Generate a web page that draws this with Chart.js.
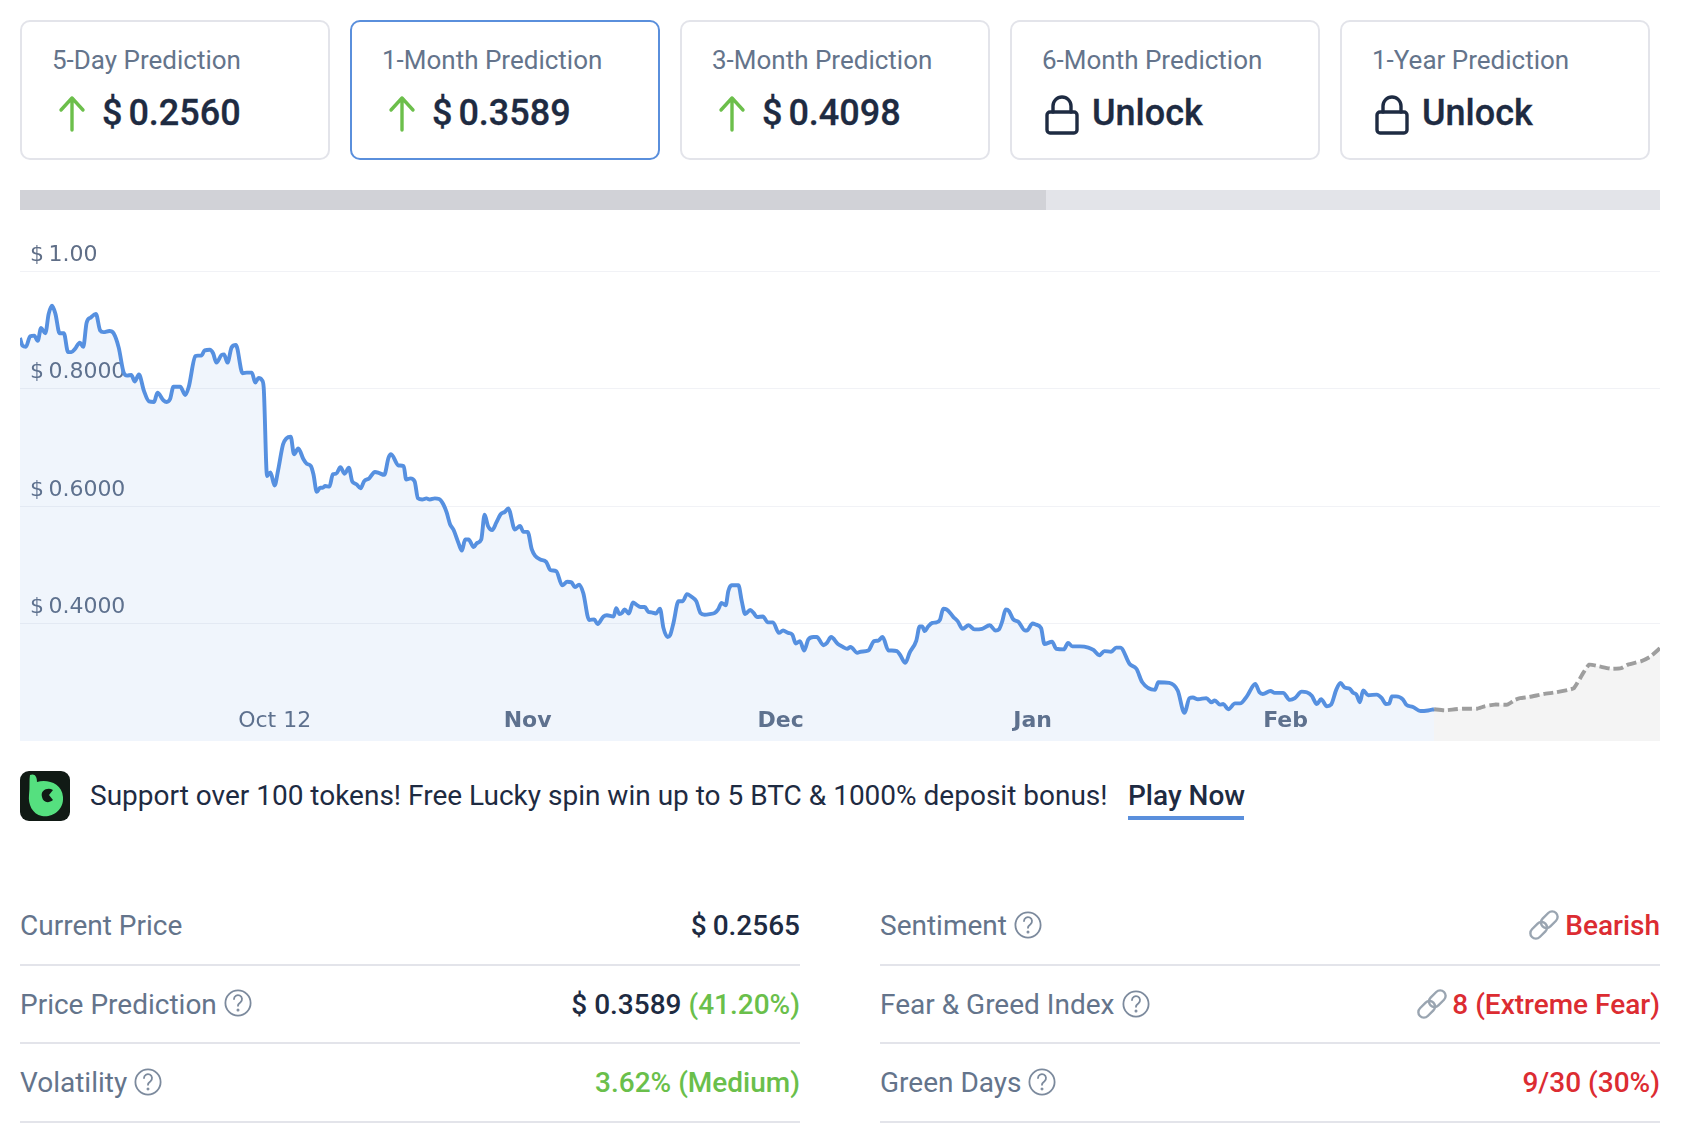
<!DOCTYPE html>
<html><head><meta charset="utf-8"><title>Price prediction</title>
<script src="https://cdn.jsdelivr.net/npm/chart.js@4"></script>
<style>
html,body{margin:0;padding:0;background:#fff;width:1684px;height:1134px;overflow:hidden;font-family:Roboto,sans-serif}
.abs,.card,.t{position:absolute}
.card{top:20px;width:306px;height:136px;border:2px solid #e3e4ea;border-radius:10px;background:#fff}
.card.on{border-color:#5a8fdc}
.t{white-space:nowrap;line-height:1;transform:translateY(-50%)}
.lab{font-size:26px;color:#64748b;letter-spacing:0}
.big{font-size:36px;font-weight:500;color:#1e2b42;-webkit-text-stroke:.3px #1e2b42;word-spacing:-3px}
.row{font-size:28px}
.dark{color:#1e2b42;font-weight:500}.green{color:#6abf4b;font-weight:500}.red{color:#dc2c32;font-weight:500}
.r{right:auto;transform:translate(-100%,-50%)}
.rule{position:absolute;height:2px;background:#e3e4ea}
svg{position:absolute;overflow:visible}
#chartWrap{position:absolute;left:20px;top:230px;width:1640px;height:511px}
</style></head><body>
<div class="card" style="left:20px"></div><div class="card on" style="left:350px"></div><div class="card" style="left:680px"></div><div class="card" style="left:1010px"></div><div class="card" style="left:1340px"></div>
<div class="t lab" style="left:52px;top:60px">5-Day Prediction</div>
<div class="t lab" style="left:382px;top:60px">1-Month Prediction</div>
<div class="t lab" style="left:712px;top:60px">3-Month Prediction</div>
<div class="t lab" style="left:1042px;top:60px">6-Month Prediction</div>
<div class="t lab" style="left:1372px;top:60px">1-Year Prediction</div>
<svg style="left:0;top:0" width="1684" height="200" fill="none" stroke="#6cbf4b" stroke-width="3.4" stroke-linecap="round" stroke-linejoin="round">
<path d="M72 130V98M61 110L72 98L83 110"/><path d="M402 130V98M391 110L402 98L413 110"/><path d="M732 130V98M721 110L732 98L743 110"/>
<g stroke="#1e2b42"><rect x="1047" y="112" width="30" height="21" rx="3"/><path d="M1053 112v-6a9 9 0 0 1 18 0v6"/><rect x="1377" y="112" width="30" height="21" rx="3"/><path d="M1383 112v-6a9 9 0 0 1 18 0v6"/></g>
</svg>
<div class="t big" style="left:102px;top:113px">$ 0.2560</div>
<div class="t big" style="left:432px;top:113px">$ 0.3589</div>
<div class="t big" style="left:762px;top:113px">$ 0.4098</div>
<div class="t big" style="left:1092px;top:113px">Unlock</div>
<div class="t big" style="left:1422px;top:113px">Unlock</div>
<div class="abs" style="left:20px;top:190px;width:1026px;height:20px;background:#d1d2d7"></div>
<div class="abs" style="left:1046px;top:190px;width:614px;height:20px;background:#e3e4e9"></div>
<div id="chartWrap"><canvas id="c" width="1640" height="511"></canvas></div>

<svg style="left:20px;top:771px" width="50" height="50"><rect width="50" height="50" rx="9" fill="#111a15"/><path d="M10 4C15 2 17 6 17 11C27 8 42 12 43 26C44 40 31 47 22 45C12 43 8 33 9 24C10 16 9 9 10 4Z" fill="#55e07f"/><path d="M22 26C20 19 28 16 33 19L29 24L33 29C28 33 23 31 22 26Z" fill="#111a15"/></svg>
<div class="t row" style="left:90px;top:796px;color:#1e2b42">Support over 100 tokens! Free Lucky spin win up to 5 BTC &amp; 1000% deposit bonus!</div>
<div class="t row dark" style="left:1128px;top:796px">Play Now</div>
<div class="abs" style="left:1128px;top:816px;width:116px;height:4px;background:#5a8fdc"></div>

<div class="t row lab" style="left:20px;top:926px;font-size:28px">Current Price</div>
<div class="t row dark r" style="left:800px;top:926px;word-spacing:-1px">$ 0.2565</div>
<div class="rule" style="left:20px;top:964px;width:780px"></div>
<div class="t row lab" style="left:20px;top:1005px;font-size:28px">Price Prediction</div>
<div class="t row r" style="left:800px;top:1005px"><span class="dark">$ 0.3589</span> <span class="green">(41.20%)</span></div>
<div class="rule" style="left:20px;top:1042px;width:780px"></div>
<div class="t row lab" style="left:20px;top:1083px;font-size:28px">Volatility</div>
<div class="t row green r" style="left:800px;top:1083px">3.62% (Medium)</div>
<div class="rule" style="left:20px;top:1121px;width:780px"></div>

<div class="t row lab" style="left:880px;top:926px;font-size:28px">Sentiment</div>
<div class="t row red r" style="left:1660px;top:926px">Bearish</div>
<div class="rule" style="left:880px;top:964px;width:780px"></div>
<div class="t row lab" style="left:880px;top:1005px;font-size:28px">Fear &amp; Greed Index</div>
<div class="t row red r" style="left:1660px;top:1005px">8 (Extreme Fear)</div>
<div class="rule" style="left:880px;top:1042px;width:780px"></div>
<div class="t row lab" style="left:880px;top:1083px;font-size:28px">Green Days</div>
<div class="t row red r" style="left:1660px;top:1083px">9/30 (30%)</div>
<div class="rule" style="left:880px;top:1121px;width:780px"></div>

<svg style="left:0;top:900px" width="1684" height="210" fill="none" stroke="#7c8a9d" stroke-width="1.8" stroke-linecap="round">
<g id="q"></g>
<g stroke="#9aa5b1" stroke-width="2.4">
<g transform="translate(1544,25) rotate(45)"><rect x="-5.5" y="-17" width="11" height="19" rx="5.5"/><rect x="-5.5" y="-2" width="11" height="19" rx="5.5"/></g>
<g transform="translate(1432,104) rotate(45)"><rect x="-5.5" y="-17" width="11" height="19" rx="5.5"/><rect x="-5.5" y="-2" width="11" height="19" rx="5.5"/></g>
</g>
</svg>
<script>
const historyDays = [
0.0,0.3,0.7,1.2,1.7,2.1,2.5,3.0,3.4,3.8,
4.2,4.7,5.2,5.7,6.1,6.5,7.1,7.5,7.9,8.4,
9.0,9.5,9.9,10.6,11.1,11.7,12.3,12.7,13.2,13.6,
14.1,14.7,15.3,15.9,16.3,17.0,17.4,17.8,18.2,19.0,
19.6,20.0,20.8,21.1,21.5,21.9,22.5,22.9,23.3,23.9,
24.2,24.6,25.1,25.6,26.4,26.9,27.5,27.9,28.3,28.7,
28.9,29.3,29.7,30.2,30.6,31.2,31.6,32.1,32.5,33.0,
33.6,34.0,34.5,34.8,35.2,35.6,
35.9,36.2,36.7,37.1,37.5,38.0,38.5,39.0,39.4,39.9,
40.4,40.8,41.4,42.1,42.6,43.2,43.7,44.0,44.9,45.5,
45.8,46.3,46.8,47.2,47.7,48.2,48.6,49.2,49.7,50.2,
50.6,51.0,51.4,52.0,52.4,52.8,53.2,53.8,54.2,54.7,
55.1,55.5,56.0,56.5,57.0,57.5,57.9,58.7,59.3,59.7,
60.2,60.7,61.1,61.7,62.4,62.9,63.6,64.3,64.9,65.4,
65.8,66.3,66.8,67.5,68.1,68.5,69.2,69.6,70.4,70.7,71.1,
71.4,71.7,72.2,72.7,73.1,73.6,74.1,74.5,74.9,75.4,
75.9,76.3,76.8,77.1,77.5,78.1,78.6,79.1,79.6,80.2,
80.7,81.2,81.8,82.4,82.8,83.2,83.7,84.0,84.4,85.2,
85.6,86.0,86.6,87.0,87.4,88.1,88.7,89.3,90.0,90.5,
91.1,91.6,92.0,92.5,93.0,93.5,94.1,94.5,95.3,95.7,
96.2,97.0,97.6,98.1,98.5,99.3,99.7,100.6,101.3,101.8,
102.3,103.0,103.4,104.0,104.4,105.0,105.5,106.3,106.7,
107.0,107.3,107.7,108.2,108.7,109.1,109.5,109.9,110.7,111.2,
111.8,112.5,113.2,114.1,115.0,115.7,116.1,116.5,116.9,117.3,
117.8,118.4,119.2,119.4,120.1,120.5,121.1,121.5,122.4,122.9,
123.8,124.3,124.8,125.7,126.7,127.3,128.0,128.6,129.4,130.0,
130.5,131.6,132.4,133.1,134.6,135.0,136.3,137.3,138.1,138.7,
139.1,139.7,140.7,141.3,141.7,142.3,
142.7,143.3,144.1,144.7,145.5,146.5,147.0,147.4,148.3,148.8,
149.8,150.6,151.2,152.0,152.6,153.2,153.8,154.3,155.0,155.5,
156.1,156.6,157.1,157.7,158.1,158.5,158.9,159.3,159.9,160.9,
161.5,162.0,162.4,162.7,163.2,164.0,164.4,165.2,166.1,167.0,167.7
];
const historyPrices = [
.886,.873,.871,.889,.890,.881,.903,.894,.927,.941,
.927,.894,.894,.862,.862,.867,.878,.871,.912,.921,
.927,.899,.896,.898,.894,.870,.827,.822,.823,.812,
.824,.796,.778,.777,.793,.780,.777,.782,.803,.803,
.789,.802,.855,.856,.856,.865,.866,.860,.844,.857,
.858,.844,.870,.874,.826,.827,.827,.810,.818,.814,
.802,.651,.657,.635,.660,.705,.715,.718,.688,.698,
.680,.672,.668,.654,.624,.631,
.631,.634,.633,.654,.655,.666,.655,.665,.642,.637,
.630,.642,.647,.658,.656,.653,.682,.688,.669,.668,
.645,.647,.642,.613,.611,.613,.611,.613,.612,.603,
.589,.569,.560,.537,.524,.543,.543,.530,.537,.543,
.585,.566,.559,.572,.586,.590,.596,.560,.566,.556,
.556,.526,.515,.509,.505,.491,.489,.465,.471,.470,
.462,.466,.452,.406,.407,.399,.412,.414,.412,.426,.416,
.418,.424,.417,.436,.432,.428,.428,.420,.419,.417,
.425,.393,.377,.380,.401,.438,.438,.450,.446,.438,
.418,.415,.416,.418,.424,.435,.431,.455,.465,.465,
.438,.416,.423,.418,.411,.412,.402,.402,.384,.388,
.384,.381,.366,.370,.354,.373,.377,.377,.363,.367,
.377,.365,.360,.357,.360,.350,.352,.354,.370,.371,
.377,.354,.354,.353,.346,.333,.350,.371,.395,
.395,.387,.395,.401,.402,.406,.425,.424,.411,.404,
.391,.397,.390,.391,.397,.388,.390,.404,.424,.421,
.407,.403,.388,.388,.400,.398,.392,.365,.369,.357,
.356,.367,.361,.361,.359,.355,.346,.353,.352,.359,
.359,.331,.323,.300,.287,.300,.299,.286,.248,.273,
.274,.271,.273,.266,.269,.262,
.263,.254,.264,.264,.276,.297,.283,.280,.285,.282,
.282,.270,.273,.284,.283,.277,.263,.271,.259,.262,
.287,.299,.291,.289,.282,.279,.266,.286,.278,.279,
.273,.263,.264,.276,.276,.271,.262,.258,.251,.252,.254
];
const forecastDays = [167.7,169.0,170.2,171.1,172.8,173.7,174.9,176.4,177.3,177.9,179.0,180.7,182.2,183.6,184.3,185.4,186.1,187.3,188.7,189.9,190.7,192.3,193.3,194.5];
const forecastPrices = [.254,.252,.254,.255,.255,.259,.262,.262,.270,.273,.275,.280,.283,.287,.290,.316,.330,.327,.323,.324,.330,.336,.343,.358];
const monthTickDays = [30.2,60.2,90.2,120.1,150.1];
const monthTickLabels = ["Oct 12","Nov","Dec","Jan","Feb"];
const priceTickValues = [1.0,0.8,0.6,0.4];
const priceTickLabels = ["$\u20091.00","$\u20090.8000","$\u20090.6000","$\u20090.4000"];
const xMin = 0, xMax = 194.5, yMin = 0.2, yMax = 1.0;

const pairs = (xs, ys) => xs.map((x, i) => ({x, y: ys[i]}));
const TICK = "#5f6e87", FAM = "'DejaVu Sans'";
const noPad = s => { s.paddingTop = s.paddingBottom = s.paddingLeft = s.paddingRight = 0; };

new Chart(document.getElementById('c'), {
  type: 'line',
  data: { datasets: [
    { data: pairs(historyDays, historyPrices), borderColor: '#5690e0', borderWidth: 3.9, backgroundColor: 'rgba(86,144,224,0.09)', fill: 'start', pointRadius: 0, cubicInterpolationMode: 'monotone', borderJoinStyle: 'round', clip: false },
    { data: pairs(forecastDays, forecastPrices), borderColor: '#9e9e9e', borderWidth: 3.9, borderDash: [10, 4], backgroundColor: 'rgba(158,158,158,0.11)', fill: 'start', pointRadius: 0, tension: 0.15, clip: false }
  ]},
  options: {
    responsive: false, animation: false, maintainAspectRatio: false,
    events: [],
    layout: { padding: { top: 41, left: 0, right: 0, bottom: 0 } },
    plugins: { legend: { display: false }, tooltip: { enabled: false } },
    scales: {
      x: {
        type: 'linear', min: xMin, max: xMax,
        afterBuildTicks: s => { s.ticks = monthTickDays.map(v => ({value: v})); },
        afterFit: s => { s.height = 0; noPad(s); },
        grid: { display: false }, border: { display: false },
        ticks: { autoSkip: false, maxRotation: 0, mirror: true, padding: 7, color: TICK,
          font: ctx => ({ family: FAM, size: 22, weight: ctx.index === 0 ? 'normal' : 'bold' }),
          callback: (v, i) => monthTickLabels[i] }
      },
      y: {
        type: 'linear', min: yMin, max: yMax,
        afterBuildTicks: s => { s.ticks = priceTickValues.map(v => ({value: v})); },
        afterFit: s => { s.width = 0; noPad(s); },
        grid: { color: '#f1f2f6', lineWidth: 1, drawTicks: false }, border: { display: false },
        ticks: { mirror: true, padding: 10, labelOffset: -16, color: TICK,
          font: { family: FAM, size: 22 },
          callback: (v, i) => priceTickLabels[i] }
      }
    }
  }
});

// question-mark help icons beside the row labels
const helpAt = [[238,103],[148,182],[1028,25],[1136,104],[1042,182]];
document.getElementById('q').innerHTML = helpAt.map(([x,y]) => `<circle cx="${x}" cy="${y}" r="12.6"/><path d="M${x-4} ${y-4}a4 4 0 1 1 6.5 3.2c-1.6 1.2-2.5 2-2.5 3.6"/><circle cx="${x}" cy="${y+7}" r=".6"/>`).join('');
</script>
</body></html>
